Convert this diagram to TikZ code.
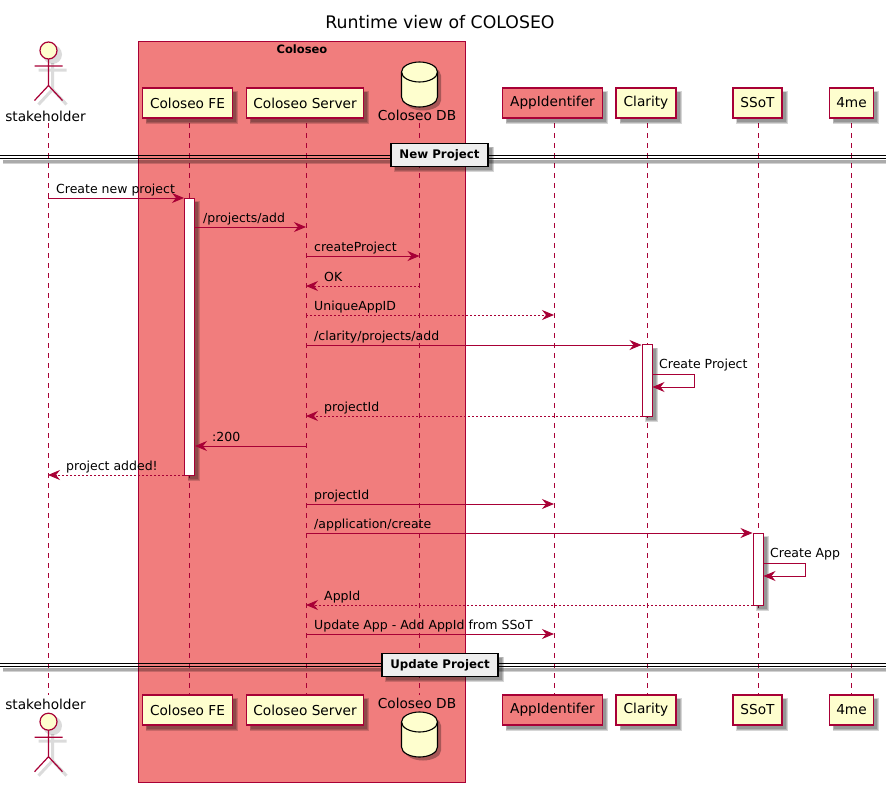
\documentclass[tikz,border=0pt]{standalone}
\usepackage{fontspec}
\setmainfont{DejaVu Sans}
\usetikzlibrary{arrows.meta}
\definecolor{puml}{HTML}{A80036}
\definecolor{peach}{HTML}{FEFECE}
\definecolor{boxred}{HTML}{F17D7D}
\definecolor{sepfill}{HTML}{EEEEEE}
\tikzset{
  x=1pt,y=-1pt,
  every node/.style={font=\fontsize{13.7}{15}\selectfont,inner sep=0pt,text=black},
  shade box/.style={fill=black,fill opacity=.16,draw=none},
  partbox/.style={draw=puml,line width=1.2pt,fill=peach,minimum height=30pt,anchor=center},
  redpart/.style={partbox,fill=boxred},
  lifeline/.style={draw=puml,line width=.8pt,dash pattern=on 5pt off 5pt},
  msgline/.style={draw=puml,line width=.9pt,-{Stealth[length=12pt,width=10pt,inset=4pt,color=puml]}},
  retline/.style={msgline,dash pattern=on 2pt off 2pt},
  msglabel/.style={anchor=base west,font=\fontsize{12.5}{15}\selectfont},
  actbar/.style={draw=puml,line width=1pt,fill=white},
  seplabel/.style={draw=black,line width=1.5pt,fill=sepfill,anchor=center,font=\fontsize{11.8}{15}\selectfont\bfseries,minimum height=23pt},
  actorline/.style={draw=puml,line width=1.2pt},
  actorshade/.style={draw=black,draw opacity=.14,line width=3pt},
}
\newcommand{\softshade}[4]{%
  \fill[shade box] (#1+3,#2+3) rectangle (#3+5.5,#4+5.5);
  \fill[shade box] (#1+3.5,#2+3.5) rectangle (#3+4.5,#4+4.5);
  \fill[shade box] (#1+4,#2+4) rectangle (#3+3.5,#4+3.5);}
\newcommand{\actorfig}[2]{%
  \begin{scope}[shift={(#1,#2)}]
    \begin{scope}[shift={(4,4)}]
      \fill[black,opacity=.14] (0,0) circle (9.5);
      \draw[actorshade] (0,8.5) -- (0,35) (-14,15.5) -- (14,15.5) (-14,50) -- (0,35) -- (14,50);
    \end{scope}
    \draw[actorline,fill=peach] (0,0) circle (8.5);
    \draw[actorline] (0,8.5) -- (0,35) (-14,15.5) -- (14,15.5) (-14,50) -- (0,35) -- (14,50);
  \end{scope}}
\newcommand{\dbshape}{(-18,10) -- (-18,35) .. controls (-18,41) and (-9,45) .. (0,45) .. controls (9,45) and (18,41) .. (18,35) -- (18,10) .. controls (18,4) and (9,0) .. (0,0) .. controls (-9,0) and (-18,4) .. (-18,10) -- cycle}
\newcommand{\dbfig}[2]{%
  \begin{scope}[shift={(#1,#2)}]
    \begin{scope}[shift={(3.5,3.5)}]
      \fill[black,opacity=.3] \dbshape;
    \end{scope}
    \draw[draw=black,line width=1.1pt,fill=peach] \dbshape;
    \draw[black,line width=1.1pt] (-18,10) .. controls (-18,16) and (-9,20) .. (0,20) .. controls (9,20) and (18,16) .. (18,10);
  \end{scope}}
\newcommand{\msg}[6]{% style, from, to, y, label x, text
  \coordinate (m#4a) at (#2 |- 0,#4);
  \coordinate (m#4b) at (#3 |- 0,#4);
  \draw[#1] (m#4a) -- (m#4b);
  \node[msglabel] (t#4) at (#5,#4-4.5) {#6};}
\newcommand{\selfmsg}[5]{% bar, y1, y2, labelx, text
  \coordinate (s#2a) at (#1,#2);
  \coordinate (s#2b) at (#1+42,#2);
  \coordinate (s#2c) at (#1+42,#3);
  \coordinate (s#2d) at (#1,#3);
  \draw[msgline] (s#2a) -- (s#2b) -- (s#2c) -- (s#2d);
  \node[msglabel] (st#2) at (#4,#2-5.5) {#5};}
\begin{document}
\begin{tikzpicture}
\useasboundingbox (0,0) rectangle (886,787);
\fill[white] (0,0) rectangle (886,787);
% title
\node[font=\fontsize{17.3}{20}\selectfont] (title) at (440,22.5) {Runtime view of COLOSEO};
% group box
\draw[draw=puml,line width=1pt,fill=boxred] (138.5,41.5) rectangle (465.5,782);
\node[font=\fontsize{11.5}{14}\selectfont\bfseries] (grp) at (302,49) {Coloseo};
% lifeline anchors
\coordinate (lS) at (48,0);
\coordinate (lF) at (189.5,0);
\coordinate (lV) at (306,0);
\coordinate (lD) at (419.5,0);
\coordinate (lA) at (554,0);
\coordinate (lC) at (647,0);
\coordinate (lT) at (758,0);
\coordinate (lM) at (851.5,0);
% lifelines
\foreach \n in {S,F,V,D,A,C,T,M}{
  \coordinate (top\n) at (l\n |- 0,123);
  \coordinate (bot\n) at (l\n |- 0,695);
  \draw[lifeline] (top\n) -- (bot\n);
}
% separators
\foreach \y/\n in {155/one,663/two}{
  \fill[black,opacity=.18] (3,\y+4.5) rectangle (886,\y+9);
  \fill[black,opacity=.18] (3,\y+4.5) rectangle (886,\y+7.5);
  \draw[black,line width=1pt] (0,\y) -- (886,\y);
  \draw[black,line width=1pt] (0,\y+3.5) -- (886,\y+3.5);
}
\softshade{391}{143.5}{488}{166.5}
\node[seplabel,minimum width=97pt] (sepA) at (439.5,155) {New Project};
\softshade{382}{653.5}{498}{676.5}
\node[seplabel,minimum width=116pt] (sepB) at (440,665) {Update Project};
% top and bottom participants
\foreach \y/\t in {103/top,710/bot}{
  \softshade{142.5}{\y-15}{232.5}{\y+15}
  \node[partbox,minimum width=90pt] (fe\t) at (187.5,\y) {Coloseo FE};
  \softshade{246.5}{\y-15}{363.5}{\y+15}
  \node[partbox,minimum width=117pt] (srv\t) at (305,\y) {Coloseo Server};
  \softshade{502.5}{\y-15}{602.5}{\y+15}
  \node[redpart,minimum width=100pt] (app\t) at (552.5,\y) {AppIdentifer};
  \softshade{616.5}{\y-15}{676.5}{\y+15}
  \node[partbox,minimum width=60pt] (cla\t) at (646,\y) {Clarity};
  \softshade{733}{\y-15}{782}{\y+15}
  \node[partbox,minimum width=49pt] (sso\t) at (757.5,\y) {SSoT};
  \softshade{829.5}{\y-15}{873.5}{\y+15}
  \node[partbox,minimum width=44pt] (me\t) at (851.5,\y) {4me};
}
% actors
\actorfig{48.5}{50.5}
\actorfig{48.5}{721.7}
\node (actT) at (45.5,116) {stakeholder};
\node (actB) at (45.5,704) {stakeholder};
% database
\dbfig{419.5}{62}
\dbfig{419.5}{712}
\node (dbT) at (417,115.5) {Coloseo DB};
\node (dbB) at (417,703.5) {Coloseo DB};
% activation bars
\softshade{184.5}{198}{194.5}{475}
\draw[actbar] (184.5,198) rectangle (194.5,475);
\softshade{642}{344.5}{652.5}{416}
\draw[actbar] (642,344.5) rectangle (652.5,416);
\softshade{753}{533}{763.5}{605}
\draw[actbar] (753,533) rectangle (763.5,605);
\coordinate (bF) at (184,0);
\coordinate (bR) at (195,0);
\coordinate (cL) at (641.5,0);
\coordinate (tL) at (752.5,0);
% messages
\msg{msgline}{lS}{bF}{198}{56}{Create new project}
\msg{msgline}{bR}{lV}{227}{203}{/projects/add}
\msg{msgline}{lV}{lD}{256}{314}{createProject}
\msg{retline}{lD}{lV}{286}{324}{OK}
\msg{retline}{lV}{lA}{315}{314}{UniqueAppID}
\msg{msgline}{lV}{cL}{345}{314}{/clarity/projects/add}
\selfmsg{652.5}{374}{387}{659}{Create Project}
\msg{retline}{cL}{lV}{416}{324}{projectId}
\msg{msgline}{lV}{bR}{446}{212}{:200}
\msg{retline}{bF}{lS}{475}{66}{project added!}
\msg{msgline}{lV}{lA}{504}{314}{projectId}
\msg{msgline}{lV}{tL}{533}{314}{/application/create}
\selfmsg{763.5}{563}{576}{770}{Create App}
\msg{retline}{tL}{lV}{605}{324}{AppId}
\msg{msgline}{lV}{lA}{634}{314}{Update App - Add AppId from SSoT}
\end{tikzpicture}
\end{document}
